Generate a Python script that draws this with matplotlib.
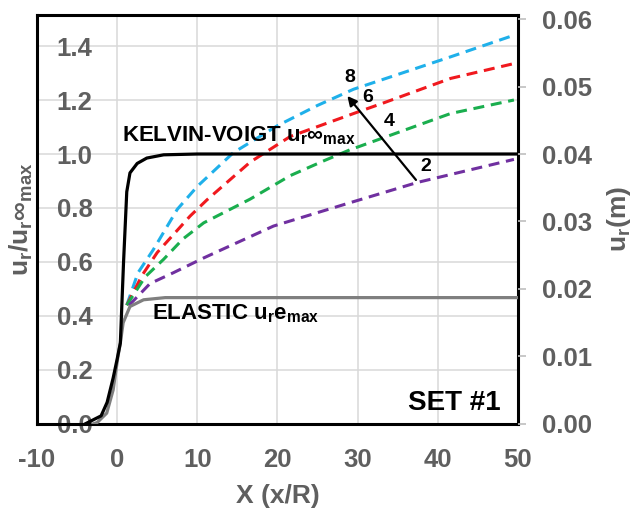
from matplotlib import pyplot as plt
import numpy as np

plt.rcParams['font.family'] = ['Liberation Sans', 'DejaVu Sans']
plt.rcParams['font.weight'] = 'bold'
plt.rcParams['axes.labelweight'] = 'bold'
plt.rcParams['axes.unicode_minus'] = False
plt.rcParams['mathtext.fontset'] = 'custom'
plt.rcParams['mathtext.rm'] = 'Liberation Sans:bold'
plt.rcParams['mathtext.it'] = 'Liberation Sans:bold'
plt.rcParams['mathtext.bf'] = 'Liberation Sans:bold'

# Kelvin-Voigt (infinite time) normalised displacement
kv_x = [-4, -3, -2, -1.25, -0.5, 0, 0.4, 0.8, 1.2, 1.6, 2.5, 3.7, 5.8, 10, 50]
kv_y = [0, 0.015, 0.03, 0.08, 0.17, 0.24, 0.30, 0.60, 0.86, 0.93, 0.965, 0.985, 0.997, 1.0, 1.0]

# elastic displacement
el_x = [-3, -2.5, -1.3, -0.5, 0.1, 0.4, 0.75, 1.6, 3.3, 6, 50]
el_y = [0, 0.005, 0.04, 0.126, 0.25, 0.30, 0.375, 0.435, 0.46, 0.468, 0.468]

# time-dependent curves (labelled 2, 4, 6, 8)
t8_x = [1.2, 2.6, 4.5, 7.5, 10, 14.5, 20, 25, 29.5, 41.6, 49.5]
t8_y = [0.44, 0.56, 0.645, 0.795, 0.88, 1.005, 1.105, 1.18, 1.24, 1.36, 1.44]
t6_x = [1.2, 3.1, 5, 9.1, 11.2, 16.6, 21.6, 29.5, 33.3, 41.6, 49.5]
t6_y = [0.44, 0.55, 0.635, 0.77, 0.83, 0.97, 1.065, 1.15, 1.19, 1.28, 1.335]
t4_x = [1.2, 3.5, 5.8, 8.2, 10.8, 16.6, 21.6, 25.8, 29, 41.6, 49.5]
t4_y = [0.44, 0.545, 0.61, 0.685, 0.745, 0.833, 0.92, 0.975, 1.015, 1.15, 1.2]
t2_x = [1.5, 4.1, 7, 10.8, 13, 19.5, 29.1, 37.5, 49.5]
t2_y = [0.44, 0.52, 0.56, 0.615, 0.645, 0.733, 0.82, 0.895, 0.98]

x_ticks = [-10, 0, 10, 20, 30, 40, 50]
y_ticks = [0.0, 0.2, 0.4, 0.6, 0.8, 1.0, 1.2, 1.4]
y2_ticks = [0.00, 0.01, 0.02, 0.03, 0.04, 0.05, 0.06]

grey = '#5f5f5f'

fig = plt.figure(figsize=(6.41, 5.17), dpi=100)
ax = fig.add_axes([0.0577, 0.180, 0.7503, 0.791])

dash = (3.6, 2.2)
ax.plot(t8_x, t8_y, color='#1fb0ea', lw=2.2, dashes=dash, zorder=3)
ax.plot(t6_x, t6_y, color='#f0191e', lw=2.2, dashes=dash, zorder=3)
ax.plot(t4_x, t4_y, color='#1aae4e', lw=2.2, dashes=dash, zorder=3)
ax.plot(t2_x, t2_y, color='#7030a0', lw=2.2, dashes=dash, zorder=3)
ax.plot(el_x, el_y, color='#7f7f7f', lw=2.3, zorder=4)
ax.plot(kv_x, kv_y, color='black', lw=2.3, zorder=4)

ax.set_xlim(-10, 50)
ax.set_ylim(0, 1.515)
ax.set_xticks(x_ticks)
ax.set_yticks(y_ticks)
ax.set_yticklabels([f'{v:.1f}' for v in y_ticks])
ax.grid(True, color='#d9d9d9', lw=1.1)
ax.set_axisbelow(True)
for s in ax.spines.values():
    s.set_linewidth(2.2)
    s.set_color('black')
ax.tick_params(axis='x', length=0, pad=17, labelsize=18.5, labelcolor=grey)
ax.tick_params(axis='y', length=0, pad=-40, labelsize=18.5, labelcolor=grey)

ax.set_xlabel('X (x/R)', fontsize=19, color=grey, fontweight='bold')
ax.xaxis.set_label_coords(0.5, -0.148)
ax.set_ylabel(r'u$_\mathregular{r}$/u$_\mathregular{r}$∞$_\mathregular{max}$', fontsize=19,
              color=grey, fontweight='bold')
ax.yaxis.set_label_coords(-0.005, 0.5)

ax2 = ax.twinx()
ax2.set_ylim(0, 0.0606)
ax2.set_yticks(y2_ticks)
ax2.set_yticklabels([f'{v:.2f}' for v in y2_ticks])
ax2.tick_params(axis='y', length=6, width=1.2, color='#bfbfbf', pad=11, labelsize=18.5, labelcolor=grey)
for s in ax2.spines.values():
    s.set_visible(False)
ax2.set_ylabel(r'u$_\mathregular{r}$(m)', fontsize=19, color=grey, fontweight='bold')
ax2.yaxis.set_label_coords(1.181, 0.5)

ax.text(0.6, 1.045, r'KELVIN-VOIGT u$_\mathregular{r}$∞$_\mathregular{max}$', fontsize=16, color='black', zorder=5)
ax.text(4.4, 0.387, r'ELASTIC u$_\mathregular{r}$e$_\mathregular{max}$', fontsize=16, color='black', zorder=5)
ax.text(47.9, 0.052, 'SET #1', fontsize=20, ha='right', color='black')

ax.annotate('', xy=(28.5, 1.223), xytext=(37.5, 0.896),
            arrowprops=dict(arrowstyle='-|>', color='black', lw=1.6, mutation_scale=14), zorder=5)
for lab, lx, ly in [('8', 29.0, 1.283), ('6', 31.25, 1.208), ('4', 33.9, 1.119), ('2', 38.5, 0.955)]:
    ax.text(lx, ly, lab, fontsize=14, ha='center', va='center', color='black', zorder=5)

fig.savefig('out.png', dpi=100)
